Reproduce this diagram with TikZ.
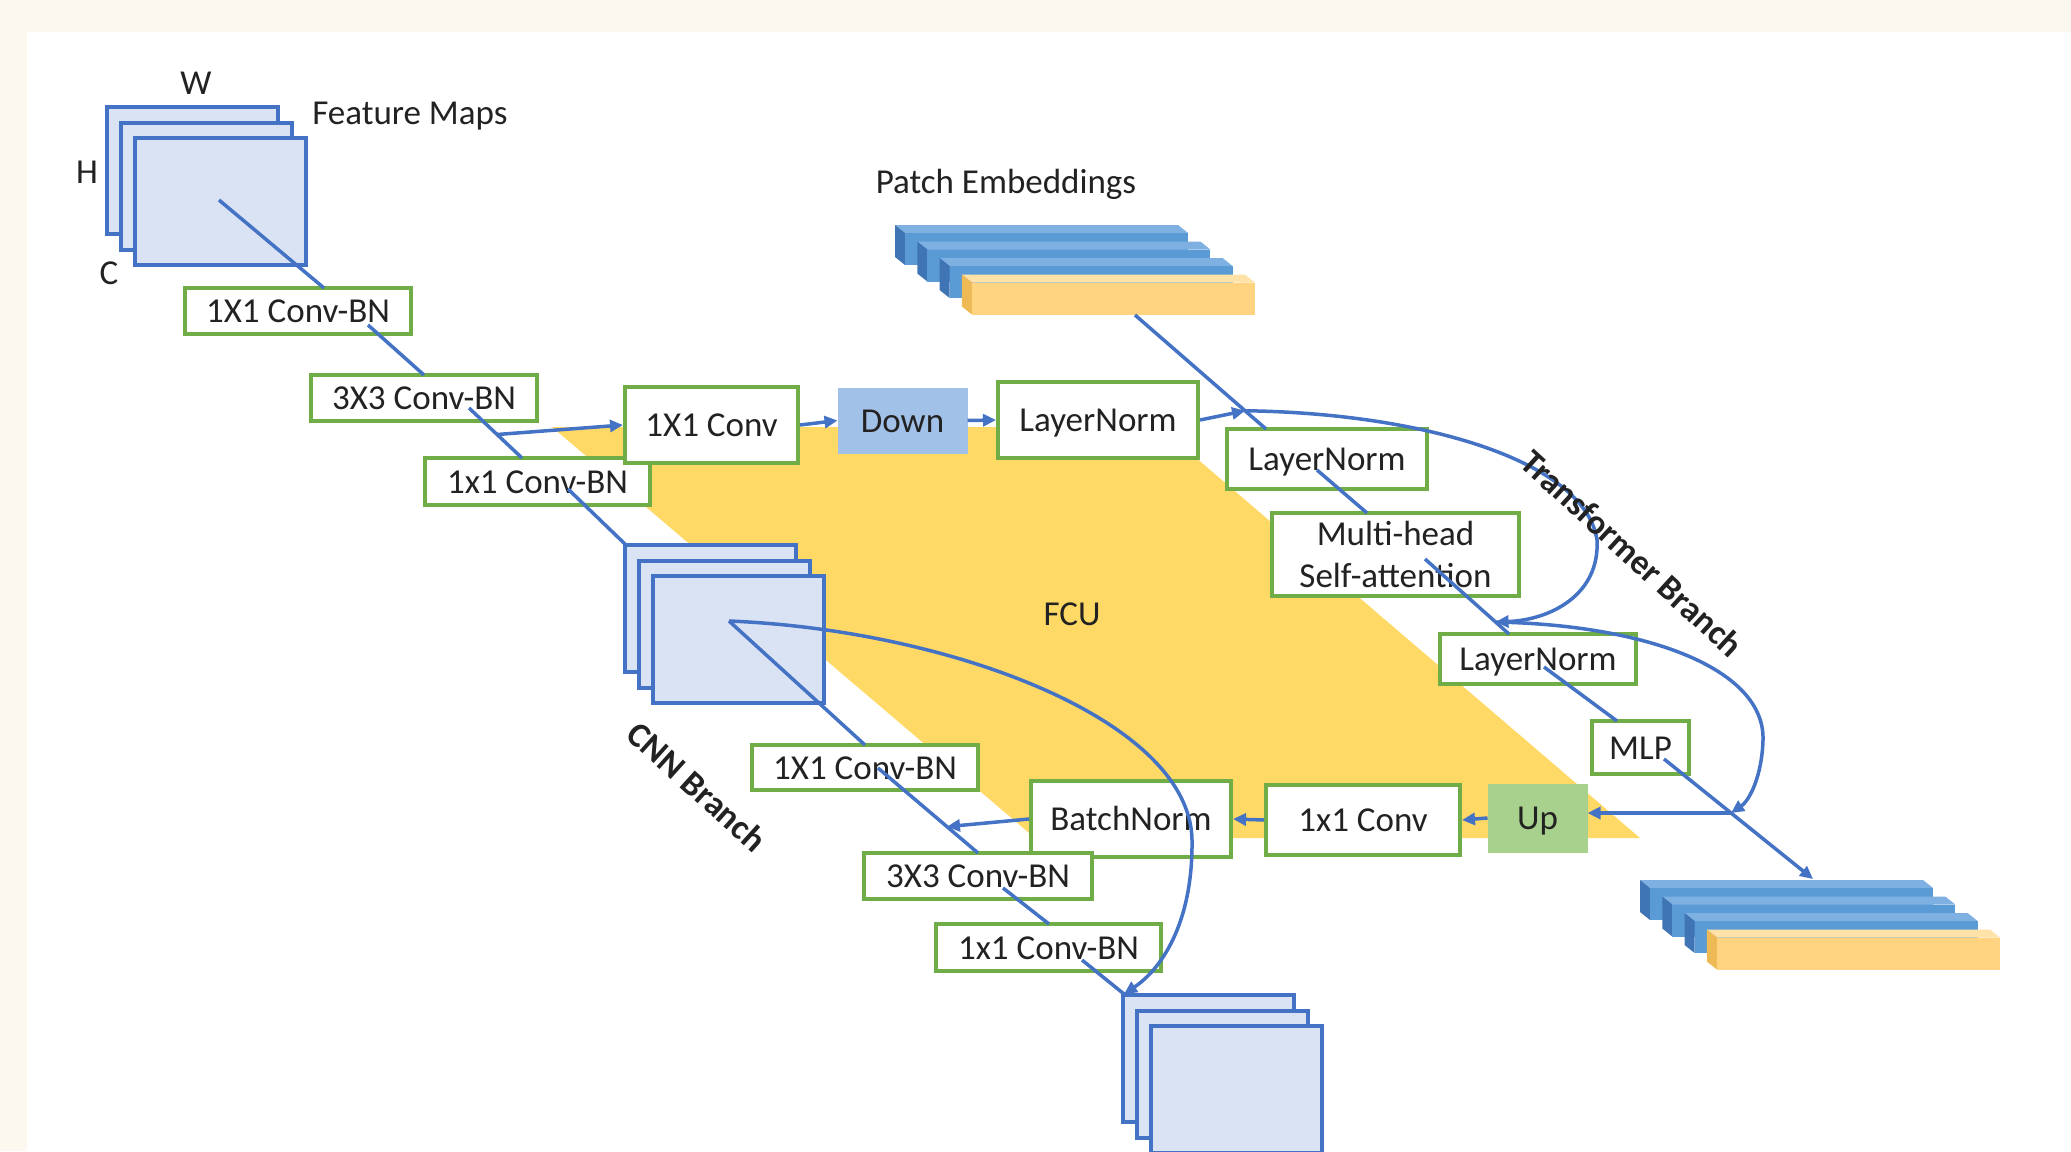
\documentclass[tikz,border=0pt]{standalone}
\usepackage{fontspec}
\setmainfont{Carlito}
\usetikzlibrary{
  arrows.meta,
  calc,
  positioning
}
\definecolor{lineblue}{HTML}{4472C4}
\definecolor{boxgreen}{HTML}{70AD47}
\definecolor{mapfill}{HTML}{DAE3F3}
\definecolor{fcuyellow}{HTML}{FFD966}
\definecolor{downblue}{HTML}{A2C1E8}
\definecolor{upgreen}{HTML}{A9D18E}
\definecolor{barblue}{HTML}{5B9BD5}
\definecolor{bartop}{HTML}{7EB0E2}
\definecolor{barside}{HTML}{3F74B5}
\definecolor{barorange}{HTML}{FFD37F}
\definecolor{orangetop}{HTML}{FFE2A8}
\definecolor{orangeside}{HTML}{EDBA55}
\definecolor{cream}{HTML}{FDF8EF}
\definecolor{ink}{HTML}{222222}
\tikzset{
  txt/.style={text height=23pt, text depth=0pt},
  box/.style={draw=boxgreen, line width=4pt, fill=white, inner sep=0pt, text=ink},
  lbl/.style={inner sep=0pt, text=ink, txt},
  link/.style={draw=lineblue, line width=3.5pt},
  arr/.style={draw=lineblue, line width=3.5pt, -{Triangle[length=13pt,width=12pt]}},
  fmap/.style={draw=lineblue, line width=4pt, fill=mapfill}
}

\begin{document}
\begin{tikzpicture}[x=1pt, y=-1pt, font=\fontsize{35}{42}\selectfont]
    %initialisation
    \fill[cream] (0,0) rectangle (2071,1151);
    \fill[white] (27,32) rectangle (2071,1151);
    \useasboundingbox (0,0) rectangle (2071,1151);
    %FCU
    \fill[fcuyellow] (552,427) -- (1160,427) -- (1640,838) -- (1035,838) -- cycle;
    \node[lbl] (fcu) at (1072,614) {FCU};
    %feature maps
    \foreach \fx/\fy in {107/107, 625/545, 1123/995}
        \foreach \i in {0,1,2}
            \draw[fmap] ({\fx+14*\i},{\fy+15.5*\i}) rectangle ++(171,127);
    %patch embeddings
    \foreach \sx/\sy in {905/233, 1650/888}{
        \foreach \i in {0,1,2,3}{
            \ifnum\i=3 \def\cf{barorange}\def\ct{orangetop}\def\cs{orangeside}%
            \else \def\cf{barblue}\def\ct{bartop}\def\cs{barside}\fi
            \coordinate (o) at ({\sx+22.3*\i},{\sy+16.5*\i});
            \fill[\ct] ($(o)+(-10,-8)$) -- ++(283,0) -- ($(o)+(283,0)$) -- (o) -- cycle;
            \fill[\cs] ($(o)+(-10,-8)$) -- (o) -- ++(0,32) -- ++(-10,-8) -- cycle;
            \fill[\cf] (o) rectangle ++(283,32);
        }
    }
    %blocks
    \node[box,txt,minimum width=226pt,minimum height=46pt] (cbra) at (298,311) {1X1 Conv-BN};
    \node[box,txt,minimum width=226pt,minimum height=46pt] (cbrb) at (424,398) {3X3 Conv-BN};
    \node[box,txt,minimum width=225pt,minimum height=47pt] (cbrc) at (537.5,481.5) {1x1 Conv-BN};
    \node[box,txt,minimum width=173pt,minimum height=76pt] (conv) at (711.5,425) {1X1 Conv};
    \node[box,txt,draw=downblue,fill=downblue,line width=1pt,minimum width=129pt,minimum height=65pt] (down) at (902.5,420.5) {Down};
    \node[box,txt,minimum width=200pt,minimum height=76pt] (lna) at (1098,420) {LayerNorm};
    \node[box,txt,minimum width=200pt,minimum height=60pt] (lnb) at (1327,459) {LayerNorm};
    \node[box,align=center,minimum width=247pt,minimum height=83pt] (mhsa) at (1395.5,554.5) {Multi-head\\Self-attention};
    \node[box,txt,minimum width=196pt,minimum height=50pt] (lnc) at (1538,659) {LayerNorm};
    \node[box,txt,minimum width=97pt,minimum height=53pt] (mlp) at (1640.5,747.5) {MLP};
    \node[box,txt,draw=upgreen,fill=upgreen,line width=1pt,minimum width=99pt,minimum height=68pt] (up) at (1537.5,818) {Up};
    \node[box,txt,minimum width=194pt,minimum height=70pt] (convb) at (1363,820) {1x1 Conv};
    \node[box,txt,minimum width=200pt,minimum height=76pt] (bn) at (1131,819) {BatchNorm};
    \node[box,txt,minimum width=226pt,minimum height=45pt] (cbrd) at (865,767.5) {1X1 Conv-BN};
    \node[box,txt,minimum width=228pt,minimum height=46pt] (cbre) at (978,876) {3X3 Conv-BN};
    \node[box,txt,minimum width=225pt,minimum height=47pt] (cbrf) at (1048.5,947.5) {1x1 Conv-BN};
    %definitions
    \coordinate (fma) at (219,200);
    \coordinate (fmb) at (626,545);
    \coordinate (fmbc) at (729,621);
    \coordinate (fmc) at (1124,994);
    \coordinate (cbrat) at (324,288);
    \coordinate (cbrai) at (368,325);
    \coordinate (cbrbt) at (424,375);
    \coordinate (cbrbi) at (469,408);
    \coordinate (cbrct) at (522,458);
    \coordinate (cbrci) at (568,489);
    \coordinate (cbrdt) at (865,745);
    \coordinate (cbrdi) at (878,768);
    \coordinate (cbret) at (978,853);
    \coordinate (cbrei) at (1003,888);
    \coordinate (cbrft) at (1049,924);
    \coordinate (cbrfi) at (1082,960);
    \coordinate (peab) at (1135,315);
    \coordinate (lnbt) at (1266,429);
    \coordinate (lnbi) at (1317,470);
    \coordinate (mhsat) at (1367,513);
    \coordinate (mhsai) at (1425,559);
    \coordinate (lnct) at (1509,634);
    \coordinate (lnci) at (1544,667);
    \coordinate (mlpt) at (1617,721);
    \coordinate (mlpi) at (1664,759);
    \coordinate (pebt) at (1813,879);
    \coordinate (ja) at ($(cbrbi)!0.53!(cbrct)$);
    \coordinate (jb) at ($(peab)!0.84!(lnbt)$);
    \coordinate (jc) at ($(mhsai)!0.84!(lnct)$);
    \coordinate (jd) at ($(mlpi)!0.45!(pebt)$);
    \coordinate (je) at ($(cbrdi)!0.69!(cbret)$);
    %cnn branch
    \draw[link] (fma) -- (cbrat);
    \draw[link] (cbrai) -- (cbrbt);
    \draw[link] (cbrbi) -- (cbrct);
    \draw[link] (cbrci) -- (fmb);
    \draw[link] (fmbc) -- (cbrdt);
    \draw[link] (cbrdi) -- (cbret);
    \draw[link] (cbrei) -- (cbrft);
    \draw[link] (cbrfi) -- (fmc);
    \draw[arr] (fmbc) .. controls (950,630) and (1190,720) .. (1192,840)
        .. controls (1193,925) and (1160,970) .. (fmc);
    %fcu
    \draw[arr] (ja) -- (conv.west);
    \draw[arr] (conv.east) -- (down.west);
    \draw[arr] (down.east) -- (lna.west);
    \draw[arr] (lna.east) -- (jb);
    \draw[arr] (jd) -- (jd -| up.east);
    \draw[arr] (up.west) -- (convb.east);
    \draw[arr] (convb.west) -- (bn.east);
    \draw[arr] (bn.west) -- (je);
    %transformer branch
    \draw[link] (peab) -- (lnbt);
    \draw[link] (lnbi) -- (mhsat);
    \draw[link] (mhsai) -- (lnct);
    \draw[link] (lnci) -- (mlpt);
    \draw[arr] (mlpi) -- (pebt);
    \draw[arr] (jb) .. controls (1420,413) and (1585,460) .. (1597,540)
        .. controls (1600,595) and (1550,620) .. (jc);
    \draw[arr] (jc) .. controls (1650,625) and (1765,670) .. (1763,740)
        .. controls (1762,775) and (1750,800) .. (jd);
    %labels
    \node[lbl] (w) at (196,83) {W};
    \node[lbl] (h) at (87,172) {H};
    \node[lbl] (c) at (109,273) {C};
    \node[lbl] (fmtxt) at (410,113) {Feature Maps};
    \node[lbl] (petxt) at (1006,182) {Patch Embeddings};
    \node[lbl,rotate=-42] (cnnb) at (697,787) {\bfseries CNN Branch};
    \node[lbl,rotate=-42.5] (trb) at (1632,554) {\bfseries Transformer Branch};
\end{tikzpicture}
\end{document}
